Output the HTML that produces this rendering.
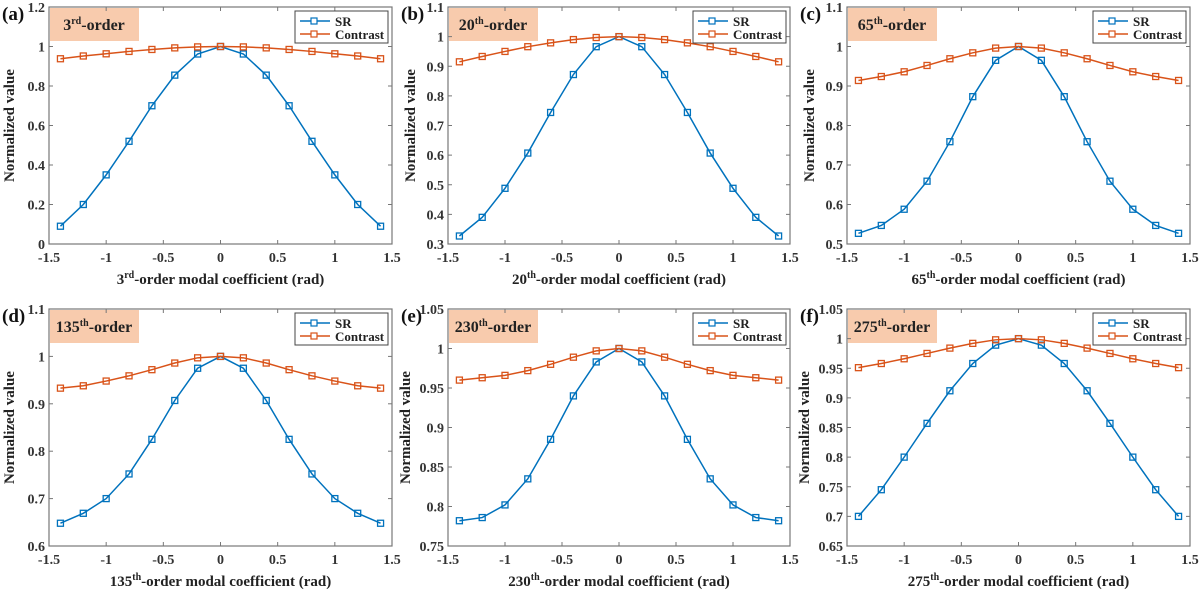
<!DOCTYPE html>
<html><head><meta charset="utf-8"><style>
html,body{margin:0;padding:0;background:#fff;}
svg{display:block;}
svg text{font-family:"Liberation Serif","Times New Roman",serif;font-weight:bold;}
</style></head><body>
<svg id="chart" width="1200" height="593" viewBox="0 0 1200 593"></svg>
<script>
const xTicks=[-1.5,-1,-0.5,0,0.5,1,1.5];
const xVals=[-1.4,-1.2,-1,-0.8,-0.6,-0.4,-0.2,0,0.2,0.4,0.6,0.8,1,1.2,1.4];
const orders=["3","20","65","135","230","275"];
const sups=["rd","th","th","th","th","th"];
const letters=["(a)","(b)","(c)","(d)","(e)","(f)"];
const srA=[0.09,0.2,0.35,0.52,0.70,0.855,0.962,1,0.962,0.855,0.70,0.52,0.35,0.2,0.09];
const conA=[0.938,0.952,0.963,0.975,0.985,0.993,0.998,1,0.998,0.993,0.985,0.975,0.963,0.952,0.938];
const srB=[0.327,0.39,0.488,0.607,0.744,0.872,0.966,1,0.966,0.872,0.744,0.607,0.488,0.39,0.327];
const conB=[0.915,0.933,0.95,0.966,0.979,0.99,0.997,1,0.997,0.99,0.979,0.966,0.95,0.933,0.915];
const srC=[0.527,0.547,0.588,0.659,0.759,0.873,0.965,1,0.965,0.873,0.759,0.659,0.588,0.547,0.527];
const conC=[0.914,0.924,0.936,0.952,0.969,0.984,0.996,1,0.996,0.984,0.969,0.952,0.936,0.924,0.914];
const srD=[0.648,0.669,0.70,0.752,0.825,0.907,0.975,1,0.975,0.907,0.825,0.752,0.70,0.669,0.648];
const conD=[0.933,0.938,0.948,0.959,0.972,0.986,0.997,1,0.997,0.986,0.972,0.959,0.948,0.938,0.933];
const srE=[0.782,0.786,0.802,0.835,0.885,0.94,0.983,1,0.983,0.94,0.885,0.835,0.802,0.786,0.782];
const conE=[0.960,0.963,0.966,0.972,0.98,0.989,0.997,1,0.997,0.989,0.98,0.972,0.966,0.963,0.960];
const srF=[0.70,0.745,0.80,0.857,0.912,0.958,0.989,1,0.989,0.958,0.912,0.857,0.80,0.745,0.70];
const conF=[0.951,0.958,0.966,0.975,0.984,0.992,0.998,1,0.998,0.992,0.984,0.975,0.966,0.958,0.951];
const yTicksA=["0","0.2","0.4","0.6","0.8","1","1.2"];
const yTicksB=["0.3","0.4","0.5","0.6","0.7","0.8","0.9","1","1.1"];
const yTicksC=["0.5","0.6","0.7","0.8","0.9","1","1.1"];
const yTicksD=["0.6","0.7","0.8","0.9","1","1.1"];
const yTicksE=["0.75","0.8","0.85","0.9","0.95","1","1.05"];
const yTicksF=["0.65","0.7","0.75","0.8","0.85","0.9","0.95","1","1.05"];
const SR=[srA,srB,srC,srD,srE,srF];
const CON=[conA,conB,conC,conD,conE,conF];
const YT=[yTicksA,yTicksB,yTicksC,yTicksD,yTicksE,yTicksF];
const boxes=[[49,7,392,244],[448,7,790,244],[847,7,1190,244],[49,309,392,546],[448,309,790,546],[847,309,1190,546]];
const NS="http://www.w3.org/2000/svg";
const svg=document.getElementById('chart');
function mk(tag,attrs,parent,text){const e=document.createElementNS(NS,tag);for(const k in attrs)e.setAttribute(k,attrs[k]);if(tag==='text'){e.setAttribute('font-family','Liberation Serif, serif');e.setAttribute('font-weight','bold');}if(text!==undefined)e.textContent=text;(parent||svg).appendChild(e);return e;}
for(let p=0;p<6;p++){
  const [L,T,R,B]=boxes[p];
  const g=mk('g',{});
  
  
  const yt=YT[p].map(Number);const ymin=yt[0],ymax=yt[yt.length-1];
  const sx=v=>L+(v+1.5)/3*(R-L);
  const sy=v=>B-(v-ymin)/(ymax-ymin)*(B-T);
  const lb=mk('rect',{x:L+1,y:T+1,width:89,height:33,fill:'#f8cbad'},g);
  
  const lt=mk('text',{x:L+45,y:T+23,'text-anchor':'middle','font-size':16,fill:'#222'},g);
  
  lt.appendChild(document.createTextNode(orders[p]));
  mk('tspan',{'font-size':10,dy:-6},lt,sups[p]);
  mk('tspan',{dy:6},lt,'-order');
  const fr=mk('rect',{x:L,y:T,width:R-L,height:B-T,fill:'none',stroke:'#777','stroke-width':1.2},g);
  
  xTicks.forEach(v=>{
    const x=sx(v);
    mk('line',{x1:x,y1:B,x2:x,y2:B-4,stroke:'#777'},g);
    mk('line',{x1:x,y1:T,x2:x,y2:T+4,stroke:'#777'},g);
    const t=mk('text',{x:x,y:B+18,'text-anchor':'middle','font-size':14,fill:'#333'},g,String(v));
    
  });
  YT[p].forEach(s=>{
    const y=sy(Number(s));
    mk('line',{x1:L,y1:y,x2:L+4,y2:y,stroke:'#777'},g);
    mk('line',{x1:R,y1:y,x2:R-4,y2:y,stroke:'#777'},g);
    const t=mk('text',{x:L-4,y:y+5,'text-anchor':'end','font-size':14,fill:'#333'},g,s);
    
  });
  const xt=mk('text',{x:(L+R)/2,y:B+40,'text-anchor':'middle','font-size':15,fill:'#222'},g);
  
  xt.appendChild(document.createTextNode(orders[p]));
  mk('tspan',{'font-size':10,dy:-6},xt,sups[p]);
  mk('tspan',{dy:6},xt,'-order modal coefficient (rad)');
  const yl=L-(p%3==0?35:(yt.some(v=>String(v).length>3)?38:33));
  const ytl=mk('text',{x:yl,y:(T+B)/2,'text-anchor':'middle','font-size':15,fill:'#222',transform:`rotate(-90 ${yl} ${(T+B)/2})`},g,'Normalized value');
  
  const pl=mk('text',{x:boxes[p][0]-47,y:T+13,'font-size':19,fill:'#111'},g,letters[p]);
  
  [[SR[p],'#0072bd','sr-line'],[CON[p],'#d95319','contrast-line']].forEach(([arr,col,nm])=>{
    const pts=arr.map((v,i)=>sx(xVals[i])+','+sy(v)).join(' ');
    const pln=mk('polyline',{points:pts,fill:'none',stroke:col,'stroke-width':1.5},g);
    
    arr.forEach((v,i)=>{
      const m=mk('rect',{x:sx(xVals[i])-3,y:sy(v)-3,width:6,height:6,fill:'none',stroke:col,'stroke-width':1.3},g);
      
    });
  });
  const lg=mk('g',{},g);
  
  const lx=R-97,ly=T+4;
  mk('rect',{x:lx,y:ly,width:93,height:32,fill:'#fff',stroke:'#444','stroke-width':1},lg);
  [['SR','#0072bd'],['Contrast','#d95319']].forEach(([n,c],k)=>{
    const yy=ly+10+k*13;
    const e=mk('g',{},lg);
    
    mk('line',{x1:lx+5,y1:yy,x2:lx+35,y2:yy,stroke:c,'stroke-width':1.5},e);
    mk('rect',{x:lx+16,y:yy-3,width:6,height:6,fill:'#fff',stroke:c,'stroke-width':1.2},e);
    mk('text',{x:lx+40,y:yy+5,'font-size':13,fill:'#222'},e,n);
  });
}
</script>
</body></html>
